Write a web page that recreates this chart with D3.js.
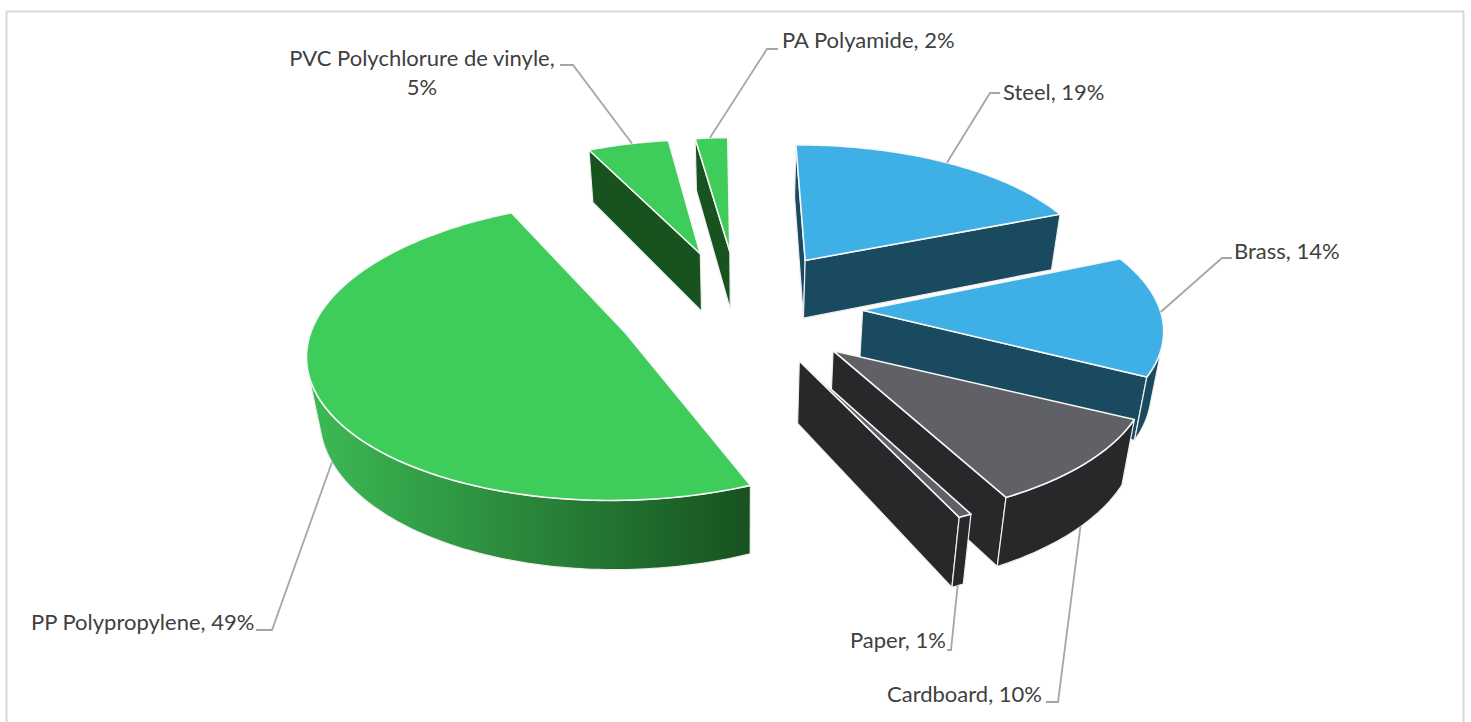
<!DOCTYPE html>
<html><head><meta charset="utf-8">
<script src="https://cdn.jsdelivr.net/npm/d3@7/dist/d3.min.js"></script>
<style>html,body{margin:0;background:#fff}svg{display:block}text{font-family:Lato,sans-serif;font-size:22px;fill:#404040}</style>
</head><body><svg id="c" width="1471" height="722"></svg>
<script>
const categories=["Steel","Brass","Cardboard","Paper","PP Polypropylene","PVC Polychlorure de vinyle","PA Polyamide"];
const shares=[19,14,10,0.6,49,5,2];
const topColors=["#3eb0e6","#3eb0e6","#606166","#606166","#3ecc5a","#3ecc5a","#3ecc5a"];
const sideColors=["#1a4a60","#1a4a60","#26282a","#26282a","#18531f","#18531f","#18531f"];
// label layout
const labelLines=[["Steel, 19%"],["Brass, 14%"],["Cardboard, 10%"],["Paper, 1%"],["PP Polypropylene, 49%"],["PVC Polychlorure de vinyle,","5%"],["PA Polyamide, 2%"]];
const labelPos=[[1003,100],[1234,259],[887,702],[850,648],[31,630],[422,66],[782,48]];
const labelAnchor=["start","start","start","start","start","middle","start"];
const leaderElbow=[[[990,93],[1000,93]],[[1222,258],[1232,258]],[[1058,702],[1046,702]],[[951,650],[947,650]],[[272,630],[256,630]],[[573,65],[560,65]],[[767,49],[778,49]]];
const leaderFrac=[.5,.47,.45,.5,.5,.55,.45];
const leaderZ=[0,0,1,1,1,0,0];
// projection parameters
const X0=744,Y0=308,A=300,B=138,K=.11,M=.03,H=60,ROT=-.75*Math.PI/180;
const explodeX=[.383,.395,.40,.40,.425,.52,.65];
const explodeY=[.43,.43,.43,.41,.43,.43,.43];
const sizes=[1,.99,1.01,1.03,1.03,1,1];
const twist=[0,-1,-2.5,-2,0,0,0];
const project=(x,y,z)=>{const w=1-K*y;return [X0+A*x/(w+M*z),Y0+(B*y+H*z)/w];};
const svg=d3.select("#c");
const defs=svg.append("defs");
const pie=d3.pie().sort(null).startAngle(ROT).endAngle(ROT+2*Math.PI);
const arcs=pie(shares).map((d,i)=>({...d,i,startAngle:d.startAngle+twist[i]*Math.PI/180,endAngle:d.endAngle+twist[i]*Math.PI/180}));
const line=d3.line();
const grad=defs.append("linearGradient").attr("id","ppWall").attr("gradientUnits","userSpaceOnUse").attr("x1",310).attr("x2",752).attr("y1",0).attr("y2",0);
grad.append("stop").attr("offset",0).attr("stop-color","#3cba55");
grad.append("stop").attr("offset",1).attr("stop-color","#17511f");
svg.append("rect").attr("x",6.5).attr("y",11.5).attr("width",1457).attr("height",720).attr("fill","#fff").attr("stroke","#d9d9d9").attr("stroke-width",2);
const cross=(p,q,r)=>(q[0]-p[0])*(r[1]-q[1])-(q[1]-p[1])*(r[0]-q[0]);
const info=arcs.map(d=>{const mid=(d.startAngle+d.endAngle)/2;
  const R=sizes[d.i];
  const ox=explodeX[d.i]*Math.sin(mid),oy=-explodeY[d.i]*Math.cos(mid);
  const pt=(a,z,r=1)=>project(ox+R*r*Math.sin(a),oy-R*r*Math.cos(a),z);
  return {...d,mid,oy,pt};});
const order=info.slice().sort((a,b)=>a.oy-b.oy);
const edge="#eeeeee";
order.forEach(d=>{
  const g=svg.append("g");
  const side=sideColors[d.i];
  const a0=d.startAngle,a1=d.endAngle;
  const N=Math.max(2,Math.ceil((a1-a0)/(Math.PI/180)));
  const as=d3.range(N+1).map(j=>a0+(a1-a0)*j/N);
  const ap0=d.pt(a0,0,0),ap1=d.pt(a0,1,0);
  const face=(a,sgn)=>{const r0=d.pt(a,0),r1=d.pt(a,1);
    if(cross(ap0,r0,r1)*sgn>0) g.append("path").attr("d",line([ap0,r0,r1,ap1])+"Z").attr("fill",side).attr("stroke",edge).attr("stroke-width",1.2).attr("stroke-linejoin","round");};
  face(a0,-1);face(a1,1);
  const vis=[];
  for(let j=0;j<N;j++){if(cross(d.pt(as[j],0),d.pt(as[j+1],0),d.pt(as[j+1],1))<0)vis.push(j);}
  if(vis.length){
    const lo=vis[0],hi=vis[vis.length-1]+1;
    const t=d3.range(lo,hi+1).map(j=>d.pt(as[j],0));
    const b=d3.range(hi,lo-1,-1).map(j=>d.pt(as[j],1));
    g.append("path").attr("d",line(t.concat(b))+"Z").attr("fill",d.i===4?"url(#ppWall)":side).attr("stroke",edge).attr("stroke-width",1.2).attr("stroke-linejoin","round");
  }
  const top=[ap0].concat(as.map(a=>d.pt(a,0)));
  g.append("path").attr("d",line(top)+"Z").attr("fill",topColors[d.i]).attr("stroke","#f8f8f8").attr("stroke-width",1.6).attr("stroke-linejoin","round");
});
info.forEach(d=>{
  const a=d.startAngle+(d.endAngle-d.startAngle)*leaderFrac[d.i];
  const s=d.pt(a,leaderZ[d.i]);
  svg.append("path").attr("d",line([s].concat(leaderElbow[d.i]))).attr("fill","none").attr("stroke","#a6a6a6").attr("stroke-width",1.8);
  const [x,y]=labelPos[d.i];
  labelLines[d.i].forEach((l,j)=>svg.append("text").attr("x",x).attr("y",y+j*28.5).attr("text-anchor",labelAnchor[d.i]).text(l));
});
</script></body></html>
